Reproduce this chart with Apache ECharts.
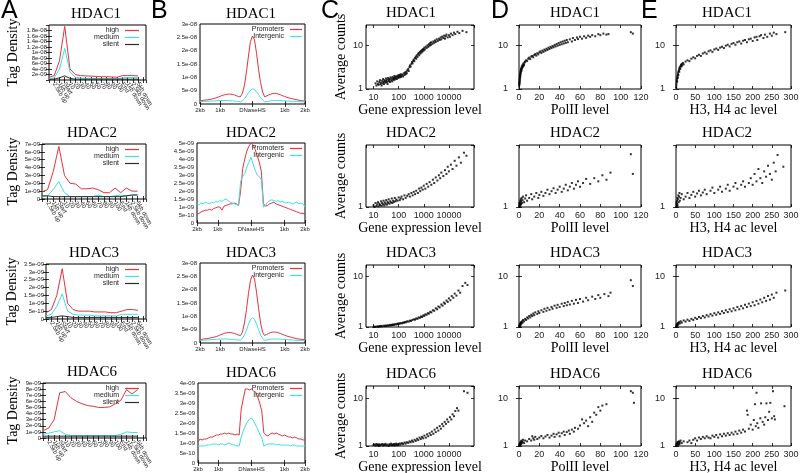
<!DOCTYPE html>
<html><head><meta charset="utf-8">
<script src="https://cdn.jsdelivr.net/npm/echarts/dist/echarts.min.js"></script>
<style>html,body{margin:0;padding:0;background:#fff}#c{width:800px;height:473px}</style>
</head><body><div id="c"></div>
<script>
// ---------------- DATA ----------------
const hdacNames = ['HDAC1', 'HDAC2', 'HDAC3', 'HDAC6'];
const profileLabels = ['5kb up','2.5kb up','1kb up','Start','10','20','30','40','50','60','70','80','90','100','End','1kb down','2.5kb down','5kb down'];
const dhsLabels = {0:'2kb', 10:'1kb', 26:'DNaseHS', 42:'1kb', 52:'2kb'};

// Column A: tag density (x 1e-9) along gene profile
const profHigh1 = [1.0,1.6,7.0,19.5,4.0,2.0,1.6,1.5,1.4,1.3,1.2,1.2,1.1,1.0,1.6,1.6,1.6,1.5];
const profMed1  = [0.5,0.8,4.0,11.5,3.0,1.0,0.7,0.6,0.6,0.5,0.5,0.5,0.5,0.5,0.8,0.9,0.9,0.8];
const profSil1  = [0.2,0.3,0.8,1.5,0.6,0.3,0.3,0.3,0.3,0.3,0.3,0.3,0.3,0.3,0.3,0.3,0.3,0.3];
const profHigh2 = [0.9,1.2,3.5,6.7,3.0,2.0,1.9,1.3,1.3,1.4,1.2,0.8,0.8,1.4,0.8,1.4,1.0,1.0];
const profMed2  = [0.3,0.4,1.2,2.2,0.8,0.3,0.3,0.3,0.3,0.3,0.5,0.3,0.3,0.4,0.5,0.4,0.5,0.6];
const profSil2  = [0.4,0.4,0.3,0.3,0.3,0.3,0.3,0.3,0.3,0.3,0.3,0.3,0.3,0.3,0.3,0.4,0.5,0.5];
const profHigh3 = [0.4,0.6,1.5,3.2,1.0,0.6,0.5,0.5,0.5,0.45,0.45,0.45,0.4,0.4,0.5,0.6,0.6,0.55];
const profMed3  = [0.2,0.3,0.8,1.6,0.5,0.3,0.25,0.25,0.25,0.2,0.2,0.2,0.2,0.2,0.3,0.3,0.3,0.3];
const profSil3  = [0.1,0.1,0.15,0.2,0.15,0.1,0.1,0.1,0.1,0.1,0.1,0.1,0.1,0.1,0.1,0.1,0.1,0.1];
const profHigh6 = [1.2,1.6,3.0,7.4,7.6,6.6,6.0,5.6,5.3,5.2,5.0,5.0,5.1,5.6,6.2,7.9,7.2,7.9];
const profMed6  = [0.6,0.8,1.0,1.2,0.6,0.4,0.4,0.4,0.4,0.4,0.4,0.4,0.4,0.4,0.6,1.0,0.9,0.9];
const profSil6  = [0.3,0.3,0.3,0.3,0.3,0.3,0.3,0.3,0.3,0.3,0.3,0.3,0.3,0.3,0.3,0.3,0.3,0.3];

// Column B: tag density (x 1e-9) around DNaseHS (21 upstream, 11 body, 21 downstream)
const dhsProm1 = [1.2,1.3,1.4,1.5,1.6,1.7,1.9,2.1,2.3,2.6,2.9,3.2,3.4,3.6,3.7,3.7,3.6,3.4,3.1,2.8,2.7,
  4,7,12,18,23.5,25.5,24,19,13,8,4.5,
  2.7,3.0,3.4,3.7,3.9,4.0,3.9,3.7,3.4,3.1,2.8,2.5,2.3,2.1,1.9,1.7,1.6,1.4,1.3,1.2,1.0];
const dhsInter1 = [0.9,0.9,1.0,1.0,1.0,1.1,1.1,1.2,1.2,1.3,1.3,1.3,1.3,1.3,1.3,1.2,1.2,1.1,1.0,0.9,0.8,
  1.2,2.0,3.0,4.2,5.2,5.7,5.4,4.6,3.5,2.4,1.5,
  0.8,0.9,1.0,1.2,1.3,1.3,1.3,1.3,1.3,1.2,1.2,1.1,1.1,1.0,1.0,1.0,0.9,0.9,0.8,0.8,0.8];
const dhsProm2 = [0.55,0.6,0.7,0.75,0.8,0.8,0.85,0.8,0.9,0.95,1.0,1.0,0.8,1.05,1.1,1.15,1.2,1.2,1.25,1.2,1.1,
  2.0,3.4,4.0,4.5,4.8,5.0,4.9,4.6,4.2,3.8,3.2,
  1.2,1.05,1.1,1.2,1.25,1.3,1.2,1.15,1.1,1.05,1.0,0.95,0.9,0.85,0.8,0.75,0.7,0.65,0.6,0.6,0.55];
const dhsInter2 = [1.2,1.15,1.25,1.2,1.3,1.25,1.2,1.3,1.25,1.35,1.3,1.4,1.35,1.45,1.5,1.4,1.3,1.25,1.2,1.15,1.1,
  2.6,2.9,3.1,3.5,3.8,4.1,3.7,3.3,3.0,2.9,2.7,
  1.0,1.1,1.3,1.4,1.45,1.4,1.35,1.4,1.3,1.35,1.3,1.25,1.3,1.25,1.2,1.25,1.3,1.2,1.25,1.2,1.0];
const dhsProm3 = [1.3,1.4,1.5,1.6,1.7,1.9,2.0,2.2,2.4,2.7,3.0,3.3,3.6,3.8,3.9,3.9,3.8,3.6,3.3,3.0,2.8,
  4.0,7.5,12.5,18.5,23.5,25.5,24.0,19.0,13.0,7.5,4.0,
  2.8,3.2,3.6,3.9,4.1,4.1,4.0,3.8,3.5,3.2,2.9,2.6,2.4,2.2,2.0,1.8,1.6,1.5,1.4,1.3,1.2];
const dhsInter3 = [1.0,1.0,1.1,1.1,1.2,1.2,1.3,1.3,1.4,1.4,1.5,1.5,1.5,1.5,1.5,1.4,1.4,1.3,1.2,1.1,1.0,
  1.8,3.0,4.8,7.0,8.8,9.5,8.9,7.2,5.0,3.0,1.8,
  1.0,1.1,1.3,1.4,1.5,1.5,1.5,1.5,1.4,1.4,1.3,1.3,1.2,1.2,1.1,1.1,1.0,1.0,1.0,0.9,0.9];
const dhsProm6 = [1.05,1.2,1.15,1.2,1.2,1.25,1.3,1.3,1.35,1.4,1.4,1.45,1.45,1.5,1.45,1.5,1.45,1.45,1.4,1.45,1.4,
  2.7,3.2,3.7,3.7,3.65,3.7,3.6,3.55,3.3,3.0,2.6,
  1.5,1.4,1.35,1.45,1.5,1.45,1.5,1.45,1.4,1.35,1.4,1.35,1.3,1.3,1.25,1.3,1.25,1.2,1.2,1.15,1.15];
const dhsInter6 = [0.85,0.85,0.85,0.85,0.9,0.9,0.9,0.95,0.95,0.95,0.9,0.95,0.95,0.9,0.95,1.0,0.95,0.9,0.9,0.85,0.85,
  1.3,1.6,1.85,2.05,2.2,2.25,2.1,1.9,1.7,1.45,1.25,
  0.85,0.9,0.95,0.95,0.95,0.95,0.9,0.95,0.9,0.9,0.9,0.9,0.9,0.85,0.9,0.9,0.85,0.85,0.85,0.85,0.85];

// Column C: [gene expression level, average counts]
const expr1 = [[12,1.35],[13,1.2],[14,1.5],[15,1.3],[16,1.25],[17,1.45],[18,1.6],[19,1.3],[20,1.4],[21,1.2],[22,1.55],[23,1.35],[24,1.7],[25,1.45],[26,1.3],[27,1.6],[28,1.5],[30,1.4],[31,1.75],[32,1.55],[34,1.45],[35,1.65],[36,1.3],[38,1.8],[40,1.5],[41,1.6],[43,1.7],[45,1.45],[47,1.85],[50,1.6],[52,1.75],[55,1.5],[57,1.9],[60,1.7],[62,1.6],[65,1.8],[68,2.0],[70,1.65],[73,1.85],[76,1.75],[80,1.95],[84,1.7],[88,1.9],[92,2.05],[96,1.8],[100,1.95],[105,2.1],[110,1.85],[115,2.0],[120,2.2],[125,1.9],[130,2.05],[140,2.15],[150,1.95],[160,2.3],[170,2.1],[180,2.4],[190,2.2],[200,2.5],
  [210,2.3],[220,2.7],[240,2.9],[250,2.6],[270,3.2],[280,3.5],[300,3.3],[320,3.8],[340,4.2],[360,3.9],[380,4.5],[400,4.8],[420,4.4],[450,5.2],[480,5.6],[500,5.0],[530,6.0],[560,5.5],[600,6.4],[630,6.8],[660,6.0],[700,7.2],[740,6.6],[780,7.6],[820,7.0],[860,8.0],[900,7.4],[950,8.4],[1000,7.8],
  [1050,9.0],[1100,8.2],[1200,9.5],[1300,8.8],[1400,10.2],[1500,9.4],[1600,10.8],[1700,10.0],[1800,11.5],[1900,10.4],[2000,12.0],[2200,11.0],[2400,12.5],[2600,11.6],[2800,13.2],[3000,12.2],[3300,14.0],[3600,12.8],[4000,14.5],[4300,13.5],[4700,15.5],[5000,14.0],[5500,16.2],[6000,15.0],[6500,17.0],[7000,14.5],[7500,16.5],[8000,18.0],[9000,15.5],[10000,17.5],[11000,16.0],[12000,19.0],[14000,17.5],[16000,20.0],[18000,18.5],[22000,21.0],[26000,19.5],[35000,22.0],[50000,20.5]];
const expr2 = [[10,1.05],[11,1.0],[12,1.12],[13,1.03],[14,1.08],[15,1.15],[16,1.02],[17,1.1],[18,1.06],[20,1.18],[21,1.04],[22,1.12],[24,1.08],[25,1.2],[27,1.05],[28,1.14],[30,1.1],[32,1.22],[34,1.07],[36,1.16],[38,1.12],[40,1.25],[43,1.1],[46,1.18],[50,1.14],[53,1.28],[56,1.12],[60,1.2],[65,1.16],[70,1.3],[75,1.18],[80,1.24],[90,1.2],[100,1.32],[110,1.22],[120,1.28],[130,1.35],[150,1.25],[170,1.4],[190,1.3],[220,1.38],[250,1.45],[280,1.35],[320,1.5],[360,1.4],[400,1.55],[450,1.45],[500,1.6],[580,1.5],[650,1.7],[720,1.58],[800,1.75],[900,1.65],[1000,1.85],[1150,1.7],[1300,1.95],[1500,1.8],[1700,2.05],[2000,1.9],[2300,2.2],[2600,2.0],[3000,2.35],[3500,2.15],[4000,2.5],[4500,2.3],[5000,2.7],[6000,2.45],[7000,2.9],[8000,2.6],[9000,3.2],[10000,2.8],[12000,3.4],[14000,3.0],[17000,3.8],[20000,3.3],[25000,4.2],[30000,3.6],[40000,4.8],[50000,4.4]];
const expr3 = [[10,1.0],[11,1.02],[12,1.0],[14,1.03],[15,1.01],[17,1.04],[18,1.02],[20,1.05],[22,1.03],[25,1.06],[28,1.04],[30,1.07],[33,1.05],[36,1.08],[40,1.06],[44,1.1],[48,1.07],[52,1.11],[56,1.09],[60,1.12],[66,1.1],[72,1.14],[80,1.12],[88,1.16],[95,1.14],[100,1.18],[110,1.16],[120,1.2],[135,1.18],[150,1.23],[165,1.21],[180,1.26],[200,1.24],[220,1.3],[250,1.28],[280,1.34],[310,1.32],[350,1.38],[400,1.42],[450,1.4],[500,1.48],[560,1.45],[620,1.55],[700,1.52],[780,1.62],[860,1.58],[950,1.7],[1050,1.66],[1150,1.78],[1300,1.75],[1450,1.88],[1600,1.84],[1800,2.0],[2000,1.95],[2300,2.15],[2600,2.1],[3000,2.35],[3400,2.25],[3800,2.55],[4300,2.45],[5000,2.8],[5600,2.65],[6300,3.05],[7000,2.9],[8000,3.35],[9000,3.15],[10000,3.7],[11500,3.4],[13000,4.1],[15000,3.8],[17000,4.6],[20000,4.2],[24000,5.3],[28000,4.8],[35000,6.5],[45000,7.5],[55000,6.8]];
const expr6 = [[10,1.05],[11,1.08],[12,1.02],[13,1.1],[14,1.04],[15,1.07],[16,1.0],[17,1.09],[18,1.03],[20,1.06],[22,1.1],[24,1.02],[26,1.08],[28,1.04],[30,1.11],[33,1.03],[36,1.07],[40,1.0],[43,1.09],[46,1.05],[50,1.12],[54,1.03],[58,1.08],[62,1.05],[66,1.1],[70,1.02],[75,1.08],[80,1.12],[86,1.04],[92,1.09],[100,1.06],[110,1.13],[120,1.08],[135,1.15],[150,1.1],[170,1.18],[190,1.12],[210,1.2],[240,1.16],[270,1.25],[300,1.2],[340,1.3],[380,1.22],[430,1.35],[480,1.28],[540,1.42],[600,1.33],[680,1.5],[760,1.4],[850,1.55],[950,1.45],[1050,1.65],[1200,1.5],[1350,1.75],[1500,1.6],[1700,1.85],[1900,1.7],[2100,2.0],[2400,1.8],[2700,2.2],[3000,1.95],[3400,2.4],[3800,2.1],[4300,2.6],[4800,2.3],[5400,2.9],[6000,2.6],[6800,3.2],[7600,2.9],[8500,3.6],[9500,3.2],[11000,4.0],[12500,3.6],[14000,4.6],[16000,4.2],[18000,5.4],[21000,6.2],[24000,5.5],[40000,14],[55000,13]];

// Column D: [PolII level, average counts]
const pol1 = [[0.2,1.2],[0.3,1.35],[0.4,1.5],[0.5,1.3],[0.6,1.7],[0.7,1.45],[0.8,1.9],[0.9,1.6],[1.0,2.1],[1.1,1.8],[1.2,2.3],[1.3,2.0],[1.4,2.5],[1.5,2.2],[1.7,2.7],[1.8,2.4],[2.0,2.9],[2.2,2.6],[2.4,3.1],[2.6,2.8],[2.8,3.3],[3.0,3.0],[3.3,3.5],[3.6,3.2],[4.0,3.7],[4.3,3.4],[4.6,3.9],[5.0,3.6],[5.5,4.1],[6,4.3],[7,4.6],[8,4.4],[9,5.0],[10,5.3],[11,4.9],[12,5.6],[13,5.8],[14,5.4],[15,6.1],[16,6.4],[17,5.9],[18,6.7],[19,6.3],[20,7.0],[21,7.4],[22,6.8],[23,7.7],[24,7.2],[25,8.1],[26,7.6],[27,8.5],[28,8.0],[29,9.0],[30,8.4],[31,9.4],[32,8.8],[33,9.8],[34,9.2],[35,10.4],[36,9.6],[37,10.9],[38,10.0],[39,11.5],[40,10.4],[41,12.0],[42,10.8],[43,12.5],[44,11.2],[45,13.0],[46,11.6],[47,13.5],[48,12.0],[50,14.0],[52,12.5],[53,15.0],[55,13.5],[57,15.5],[58,14.2],[60,16.0],[62,14.5],[64,16.5],[66,15.2],[68,17.0],[70,16.0],[72,17.5],[75,16.5],[78,18.5],[80,17.5],[83,19.0],[86,18.0],[88,18.5],[110,20.5],[112,19.0]];
const pol2 = [[0.2,1.0],[0.4,1.05],[0.5,1.12],[0.7,1.02],[0.9,1.08],[1,1.15],[1.2,1.05],[1.4,1.2],[1.6,1.1],[1.8,1.25],[2,1.08],[2.3,1.18],[2.6,1.3],[3,1.12],[3.5,1.22],[4,1.35],[5,1.15],[6,1.28],[7,1.4],[8,1.2],[10,1.3],[12,1.45],[13,1.25],[15,1.35],[17,1.5],[19,1.3],[20,1.42],[22,1.55],[24,1.38],[26,1.5],[28,1.65],[30,1.45],[32,1.58],[34,1.72],[36,1.5],[38,1.65],[40,1.8],[42,1.55],[44,1.7],[46,1.9],[48,1.62],[50,1.8],[52,2.0],[54,1.7],[56,1.9],[58,2.1],[60,1.8],[63,2.0],[66,2.25],[70,1.95],[74,2.3],[78,2.1],[82,2.5],[86,2.2],[90,2.7],[110,4.6],[112,2.6]];
const pol3 = [[0.2,1.0],[0.4,1.05],[0.6,1.1],[0.8,1.03],[1,1.15],[1.2,1.08],[1.5,1.2],[1.8,1.12],[2,1.25],[2.5,1.18],[3,1.3],[3.5,1.22],[4,1.38],[5,1.3],[6,1.45],[7,1.38],[8,1.55],[9,1.48],[10,1.65],[11,1.55],[12,1.75],[13,1.65],[14,1.85],[15,1.72],[16,1.95],[18,1.82],[19,2.05],[20,1.9],[22,2.15],[24,2.0],[25,2.3],[27,2.1],[28,2.4],[30,2.2],[32,2.5],[33,2.3],[35,2.65],[37,2.4],[38,2.75],[40,2.5],[42,2.9],[44,2.6],[45,3.0],[47,2.7],[48,3.15],[50,2.8],[52,3.3],[54,2.9],[56,3.45],[58,3.0],[60,3.6],[63,3.2],[66,3.8],[68,3.4],[72,4.0],[75,3.6],[78,4.3],[80,3.8],[84,4.5],[88,4.1],[90,4.8],[110,8.5],[112,6.5]];
const pol6 = [[0.2,1.0],[0.4,1.05],[0.6,1.1],[0.8,1.02],[1,1.15],[1.2,1.07],[1.5,1.2],[1.8,1.1],[2,1.25],[2.3,1.12],[2.6,1.3],[3,1.17],[3.5,1.22],[4,1.35],[5,1.15],[6,1.3],[8,1.25],[10,1.4],[12,1.3],[13,1.6],[14,1.45],[15,1.35],[16,1.55],[18,1.4],[20,1.5],[22,1.62],[24,1.45],[26,1.58],[28,1.7],[30,1.5],[32,1.65],[34,1.8],[35,1.55],[37,1.75],[39,1.9],[40,1.6],[42,1.85],[44,2.0],[45,1.7],[47,1.95],[49,2.1],[50,1.8],[52,2.2],[54,2.0],[55,2.4],[58,2.3],[60,2.7],[62,3.6],[64,3.0],[66,3.4],[68,2.6],[70,4.0],[72,3.2],[74,5.0],[76,4.5],[78,6.5],[80,5.5],[82,7.0],[86,7.5],[110,14],[112,13],[113,8]];

// Column E: [H3, H4 ac level, average counts]
const ac1 = [[0.5,1.1],[1,1.25],[1.5,1.4],[2,1.55],[2.5,1.7],[3,1.5],[3.5,1.85],[4,2.0],[4.5,1.8],[5,2.2],[5.5,2.4],[6,2.1],[7,2.6],[8,2.8],[8.5,2.5],[9,3.0],[10,3.2],[11,2.9],[12,3.4],[13,3.6],[14,3.3],[15,3.8],[16,3.5],[18,4.0],[20,3.7],[25,4.3],[30,4.6],[35,4.4],[40,5.0],[45,5.4],[50,5.1],[55,5.8],[60,6.2],[65,5.8],[70,6.6],[75,7.0],[80,6.5],[85,7.4],[90,7.8],[95,7.2],[100,8.2],[105,8.6],[110,8.0],[115,9.0],[120,9.5],[125,8.8],[130,10.0],[135,10.5],[140,9.6],[145,11.0],[150,11.5],[155,10.5],[160,12.0],[165,12.5],[170,11.2],[175,13.0],[180,13.5],[185,12.0],[190,14.0],[195,14.5],[200,12.8],[205,15.5],[210,16.0],[212,13.5],[218,16.5],[222,17.5],[228,15.0],[232,18.0],[238,16.0],[245,19.0],[250,17.0],[255,20.0],[262,18.5],[285,20.5]];
const ac2 = [[0.5,1.0],[1,1.08],[1.5,1.15],[2,1.03],[2.5,1.2],[3,1.1],[3.5,1.3],[4,1.05],[5,1.25],[6,1.4],[7,1.15],[8,1.35],[9,1.5],[10,1.2],[12,1.3],[15,1.45],[20,1.25],[25,1.35],[30,1.5],[35,1.3],[40,1.42],[45,1.55],[50,1.35],[55,1.48],[60,1.6],[65,1.4],[70,1.52],[75,1.65],[80,1.45],[90,1.6],[95,1.75],[100,1.5],[110,1.65],[115,1.8],[120,1.55],[130,1.7],[135,1.9],[140,1.6],[150,1.8],[155,2.0],[160,1.7],[170,1.9],[175,2.1],[180,1.8],[190,2.0],[195,2.3],[200,1.9],[205,2.6],[210,2.1],[215,3.0],[220,2.3],[225,2.0],[230,2.8],[235,2.4],[240,3.3],[245,2.6],[250,2.2],[255,3.6],[260,2.8],[265,4.5],[280,3.2]];
const ac3 = [[0.5,1.0],[1,1.05],[1.5,1.1],[2,1.02],[3,1.15],[4,1.08],[5,1.2],[6,1.12],[8,1.25],[10,1.18],[12,1.3],[15,1.22],[20,1.35],[25,1.28],[30,1.4],[35,1.32],[40,1.45],[45,1.38],[50,1.52],[55,1.44],[60,1.58],[65,1.5],[70,1.65],[75,1.55],[80,1.72],[85,1.62],[90,1.8],[95,1.68],[100,1.88],[105,1.75],[110,1.95],[115,1.82],[120,2.05],[125,1.9],[130,2.15],[135,1.98],[140,2.25],[145,2.05],[150,2.35],[155,2.15],[160,2.5],[165,2.25],[170,2.6],[175,2.35],[180,2.75],[185,2.5],[190,2.9],[195,2.6],[200,3.1],[205,2.7],[210,3.3],[215,2.9],[220,3.5],[225,3.1],[230,3.8],[235,3.3],[240,4.1],[245,3.5],[250,4.4],[255,3.8],[262,4.8],[285,5.3]];
const ac6 = [[0.5,1.0],[1,1.08],[1.5,1.12],[2,1.03],[3,1.18],[4,1.1],[5,1.22],[6,1.06],[7,1.15],[8,1.25],[9,1.1],[10,1.2],[12,1.3],[15,1.15],[20,1.25],[30,1.2],[35,1.3],[40,1.15],[45,1.35],[50,1.45],[55,1.3],[60,1.5],[65,1.4],[70,1.55],[75,1.45],[80,1.6],[85,1.5],[90,1.45],[95,1.65],[100,1.55],[105,1.7],[110,1.5],[115,1.75],[120,1.6],[125,1.8],[130,1.65],[135,1.85],[140,1.7],[145,1.9],[150,1.75],[155,2.0],[160,1.8],[165,2.1],[170,1.9],[175,2.2],[180,2.0],[185,5.5],[187,4.5],[190,2.3],[195,2.8],[200,2.2],[203,3.5],[206,7.5],[208,2.6],[210,13],[212,3.0],[215,2.4],[220,3.8],[222,7.8],[226,3.2],[230,2.8],[233,4.0],[236,7.8],[240,3.5],[243,5.2],[246,8.0],[250,3.8],[253,14],[256,4.2],[258,3.6],[283,6.8]];

// axis ranges per row
const profMax = [20, 7, 3.5, 9], profStep = [2, 1, 0.5, 1];
const dhsMax = [30, 5, 30, 4], dhsStep = [5, 0.5, 5, 0.5];
const countMax = [30, 6, 17, 18];

// ---------------- LAYOUT ----------------
const RED = '#e8323c', CYAN = '#3ee0e0', DARK = '#2b2b2b';
const SERIF = '"Liberation Serif","Times New Roman",serif';
const SANS = '"Liberation Sans",Arial,sans-serif';
const boxA = [[49,25],[42,144],[46,264],[43,383]], rightA = 146, hA = 55;
const boxB = [[200,24],[197,143],[200,263],[198,383]], rightB = 305, hB = 80;
const topC = [25,145,265,386], hC = [64,62,62,60], nameGapC = [11,11,11,10];
const colC = [366,474], colD = [519,641], colE = [676,791];
const titleX = {A:[96,92,94,92], B:[251,251,251,251], C:411, D:575, E:727};

const grid = [], xAxis = [], yAxis = [], series = [], legend = [], graphic = [];

function sci(v) {
  if (Math.abs(v) < 1e-15) return '0';
  let e = Math.floor(Math.log10(v) + 1e-9);
  let m = Math.round(v / Math.pow(10, e) * 10) / 10;
  if (m >= 10) { m = m / 10; e++; }
  return m + 'e' + (e < 0 ? '-' : '+') + String(Math.abs(e)).padStart(2, '0');
}
function text(t, x, y, size, family, opts) {
  graphic.push({type:'text', x, y, silent:true,
    style:Object.assign({text:t, fill:'#000', fontSize:size, fontFamily:family, align:'center', verticalAlign:'middle'}, opts||{})});
}
function addGrid(l, t, w, h) {
  grid.push({left:l, top:t, width:w, height:h, show:true, borderColor:'#000', borderWidth:1,
    backgroundColor:'transparent', containLabel:false, outerBoundsMode:'none'});
  return grid.length - 1;
}
const tickStyle = {inside:true, length:3, lineStyle:{color:'#000', width:0.8}};
// push a primary axis plus an unlabeled mirror (gnuplot-style ticks on all four sides)
function pushAxes(x, y) {
  const xi = xAxis.length, yi = yAxis.length;
  xAxis.push(Object.assign({position:'bottom'}, x));
  yAxis.push(Object.assign({position:'left'}, y));
  const strip = a => { const m = Object.assign({}, a); delete m.name;
    m.axisLabel = Object.assign({}, a.axisLabel, {show:false}); return m; };
  xAxis.push(Object.assign(strip(x), {position:'top'}));
  yAxis.push(Object.assign(strip(y), {position:'right'}));
  return [xi, yi];
}

function panelA(r) {
  const [l, t] = boxA[r];
  const gi = addGrid(l, t, rightA - l, hA);
  const [xi, yi] = pushAxes(
    {gridIndex:gi, type:'value', min:0, max:18.5, interval:1,
     axisLine:{show:false}, splitLine:{show:false}, axisTick:tickStyle,
     axisLabel:{rotate:-60, fontSize:6, fontFamily:SANS, color:'#222', margin:3, hideOverlap:false,
       showMaxLabel:false, formatter:v => profileLabels[v] || ''}},
    {gridIndex:gi, type:'value', min:0, max:profMax[r], interval:profStep[r],
     axisLine:{show:false}, splitLine:{show:false}, axisTick:tickStyle,
     name:'Tag Density', nameLocation:'middle', nameGap:l - 20,
     nameTextStyle:{fontFamily:SERIF, fontSize:14, color:'#000'},
     axisLabel:{fontSize:6, fontFamily:SANS, color:'#222', margin:2, hideOverlap:false, formatter:v => sci(v * 1e-9)}});
  const sets = [[ [profHigh1,profHigh2,profHigh3,profHigh6][r], 'high', RED ],
                [ [profMed1,profMed2,profMed3,profMed6][r], 'medium', CYAN ],
                [ [profSil1,profSil2,profSil3,profSil6][r], 'silent', DARK ]];
  sets.forEach(([d, name, c]) => series.push({type:'line', name, xAxisIndex:xi, yAxisIndex:yi,
    data:d.map((v, i) => [i, v]), showSymbol:false, symbol:'none', silent:true,
    lineStyle:{color:c, width:1}, itemStyle:{color:c}, animation:false}));
  legend.push({data:['high','medium','silent'], orient:'vertical', right:800 - 139, top:t + 2,
    align:'right', icon:'rect', itemWidth:14, itemHeight:1.2, itemGap:0, padding:0,
    textStyle:{fontSize:7, fontFamily:SANS, color:'#222', lineHeight:6.3, padding:[0,1,0,0]}, selectedMode:false});
  text(hdacNames[r], titleX.A[r], t - 11, 15, SERIF);
}

function panelB(r) {
  const [l, t] = boxB[r];
  const gi = addGrid(l, t, rightB - l, hB);
  const cats = dhsProm1.map((_, i) => String(i));
  const show = i => dhsLabels[i] !== undefined;
  const [xi, yi] = pushAxes(
    {gridIndex:gi, type:'category', data:cats, boundaryGap:false,
     axisLine:{show:false}, splitLine:{show:false},
     axisTick:Object.assign({interval:(i) => show(i)}, tickStyle),
     axisLabel:{fontSize:6, fontFamily:SANS, color:'#222', margin:3, interval:(i) => show(i),
       formatter:(v, i) => dhsLabels[i] || ''}},
    {gridIndex:gi, type:'value', min:0, max:dhsMax[r], interval:dhsStep[r],
     axisLine:{show:false}, splitLine:{show:false}, axisTick:tickStyle,
     axisLabel:{fontSize:6, fontFamily:SANS, color:'#222', margin:3, hideOverlap:false, formatter:v => sci(v * 1e-9)}});
  const sets = [[ [dhsProm1,dhsProm2,dhsProm3,dhsProm6][r], 'Promoters', RED ],
                [ [dhsInter1,dhsInter2,dhsInter3,dhsInter6][r], 'Intergenic', CYAN ]];
  sets.forEach(([d, name, c]) => series.push({type:'line', name, xAxisIndex:xi, yAxisIndex:yi,
    data:d, showSymbol:false, symbol:'none', silent:true,
    lineStyle:{color:c, width:1}, itemStyle:{color:c}, animation:false}));
  legend.push({data:['Promoters','Intergenic'], orient:'vertical', right:800 - 302, top:t + 2,
    align:'right', icon:'rect', itemWidth:12, itemHeight:1.2, itemGap:0, padding:0,
    textStyle:{fontSize:7, fontFamily:SANS, color:'#222', lineHeight:5.5, padding:[0,1,0,0]}, selectedMode:false});
  text(hdacNames[r], titleX.B[r], t - 10, 15, SERIF);
}

function panelScatter(r, col, key, data, xType, xMin, xMax, xInt, xName, yName, yMargin) {
  const [l, rr] = col;
  const t = topC[r];
  const gi = addGrid(l, t, rr - l, hC[r]);
  const xa = {gridIndex:gi, type:xType, min:xMin, max:xMax,
    axisLine:{show:false}, splitLine:{show:false}, axisTick:tickStyle,
    name:xName, nameLocation:'middle', nameGap:nameGapC[r],
    nameTextStyle:{fontFamily:SERIF, fontSize:14, color:'#000'},
    axisLabel:{fontSize:9, fontFamily:SANS, color:'#222', margin:4,
      showMinLabel:xType !== 'log', showMaxLabel:xType !== 'log', formatter:v => String(Math.round(v))}};
  if (xInt) xa.interval = xInt;
  const ya = {gridIndex:gi, type:'log', min:1, max:countMax[r],
    axisLine:{show:false}, splitLine:{show:false}, axisTick:tickStyle,
    axisLabel:{fontSize:9, fontFamily:SANS, color:'#222', margin:yMargin, showMaxLabel:false, formatter:v => String(Math.round(v))}};
  if (yName) Object.assign(ya, {name:yName, nameLocation:'middle', nameGap:18,
    nameTextStyle:{fontFamily:SERIF, fontSize:14, color:'#000'}});
  const [xi, yi] = pushAxes(xa, ya);
  series.push({type:'scatter', xAxisIndex:xi, yAxisIndex:yi, data, symbol:'rect', symbolSize:2,
    itemStyle:{color:'#000'}, silent:true, animation:false});
  text(hdacNames[r], titleX[key], t - 12, 15, SERIF);
}

for (let r = 0; r < 4; r++) {
  panelA(r);
  panelB(r);
  panelScatter(r, colC, 'C', [expr1,expr2,expr3,expr6][r], 'log', 5, 100000, null, 'Gene expression level', 'Average counts', 3);
  panelScatter(r, colD, 'D', [pol1,pol2,pol3,pol6][r], 'value', 0, 120, 20, 'PolII level', null, 11);
  panelScatter(r, colE, 'E', [ac1,ac2,ac3,ac6][r], 'value', 0, 300, 50, 'H3, H4 ac level', null, 11);
}
[['A',1],['B',151],['C',321],['D',491],['E',641]].forEach(([L, x]) =>
  text(L, x, -1, 25, SANS, {align:'left', verticalAlign:'top'}));

const chart = echarts.init(document.getElementById('c'), null, {renderer:'canvas', width:800, height:473});
chart.setOption({animation:false, backgroundColor:'#fff', grid, xAxis, yAxis, series, legend, graphic:{elements:graphic}});
</script></body></html>
